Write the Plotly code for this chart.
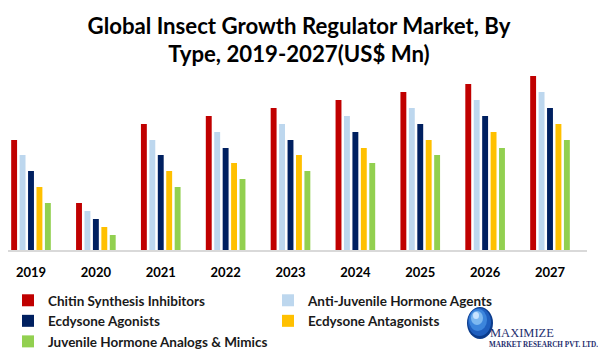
import plotly.graph_objects as go

years = ["2019", "2020", "2021", "2022", "2023", "2024", "2025", "2026", "2027"]
series_names = [
    "Chitin Synthesis Inhibitors",
    "Anti-Juvenile Hormone Agents",
    "Ecdysone Agonists",
    "Ecdysone Antagonists",
    "Juvenile Hormone Analogs & Mimics",
]
chitin = [110, 47, 126, 134, 142, 150, 158, 166, 174]
anti_juvenile = [95, 39, 110, 118, 126, 134, 142, 150, 158]
ecdysone_agonists = [79, 31, 95, 102, 110, 118, 126, 134, 142]
ecdysone_antagonists = [63, 23, 79, 87, 95, 102, 110, 118, 126]
juvenile_analogs = [47, 15, 63, 71, 79, 87, 95, 102, 110]
colors = ["#C00000", "#BDD7EE", "#002060", "#FFC000", "#92D050"]

series_values = [chitin, anti_juvenile, ecdysone_agonists, ecdysone_antagonists, juvenile_analogs]

FONT = "Lato"
# page has an 8px body margin; figure coords = page coords - 8
W, H = 598, 352
L, R, T, B = 0, 19, 62, 110
PW = W - L - R
PH = H - T - B
OFF = 8


def px(x):  # page x -> paper x
    return (x - OFF - L) / PW


def py(y):  # page y -> paper y
    return (H - B - (y - OFF)) / PH


# category centers: page x 31 (first) .. 550 (last)
cat_w = (550 - 31) / 8
x0 = -((31 - OFF - L) / cat_w)
x1 = x0 + PW / cat_w

fig = go.Figure()
for name, vals, col in zip(series_names, series_values, colors):
    fig.add_trace(go.Bar(x=years, y=vals, name=name, marker=dict(color=col, line=dict(width=0))))

fig.update_layout(
    width=W,
    height=H,
    paper_bgcolor="white",
    plot_bgcolor="white",
    margin=dict(l=L, r=R, t=T, b=B, autoexpand=False),
    barmode="group",
    bargap=0.35,
    bargroupgap=0.3,
    title=dict(
        text="Global Insect Growth Regulator Market, By<br>Type, 2019-2027(US$ Mn)",
        x=(299 - OFF) / W, xanchor="center", xref="container",
        y=1 - (33.5 - OFF) / H, yanchor="middle", yref="container",
        font=dict(family=FONT, size=22.2, color="#000000", weight="bold"),
    ),
    xaxis=dict(
        range=[x0, x1],
        showgrid=False, showline=True, linecolor="#D9D9D9", linewidth=1.5,
        tickfont=dict(family=FONT, size=13, color="#000000", weight="bold"),
        ticks="", ticklabelstandoff=10,
    ),
    yaxis=dict(range=[0, 180], visible=False, showgrid=False),
    legend=dict(
        orientation="h", xref="container", yref="container",
        x=(4 - OFF) / W, xanchor="left", y=1 - (285 - OFF) / H, yanchor="top",
        entrywidth=215, entrywidthmode="pixels",
        font=dict(family=FONT, size=13.5, color="#1a1a1a", weight="bold"),
        bgcolor="rgba(0,0,0,0)",
        traceorder="normal", itemclick=False,
    ),
    showlegend=True,
)

# Logo: globe (pseudo-gradient) + company name
globe_layers = [
    (467, 493, 307, 339, "#0B3C8C"),
    (468, 491, 308, 336, "#1F5FBF"),
    (469, 487, 309, 331, "#3C85DC"),
    (471, 483, 311, 325, "#7DB8F0"),
    (473, 479, 312, 319, "#C8E4FF"),
]
for gx0, gx1, gy0, gy1, gc in globe_layers:
    fig.add_shape(type="circle", xref="paper", yref="paper",
                  x0=px(gx0), x1=px(gx1), y0=py(gy1), y1=py(gy0),
                  fillcolor=gc, line=dict(width=0))
fig.add_annotation(text="MAXIMIZE", xref="paper", yref="paper",
                   x=px(488), y=py(333), xanchor="left", yanchor="middle",
                   showarrow=False, font=dict(family="Liberation Serif", size=12.5, color="#1F2F6F"))
fig.add_annotation(text="MARKET RESEARCH PVT. LTD.", xref="paper", yref="paper",
                   x=px(487), y=py(345), xanchor="left", yanchor="middle",
                   showarrow=False, font=dict(family="Liberation Serif", size=7.2, color="#1F2F6F", weight="bold"))

fig.write_html("out.html")
